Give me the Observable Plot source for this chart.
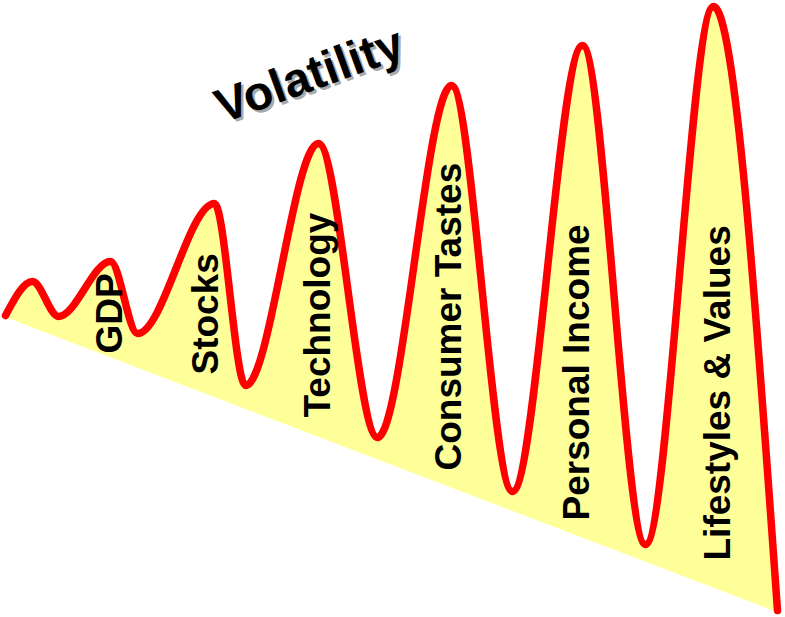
<!DOCTYPE html>
<html>
<head>
<meta charset="utf-8">
<script src="https://cdn.jsdelivr.net/npm/d3@7"></script>
<script src="https://cdn.jsdelivr.net/npm/@observablehq/plot@0.6"></script>
<style>
  html, body { margin: 0; padding: 0; background: #fff; }
  #chart svg { display: block; }
</style>
</head>
<body>
<div id="chart"></div>
<script>
// Volatility wave: turning points (x position along the horizon, level above floor)
const waveX = [5, 32, 58, 110, 137, 214, 245, 318, 377, 451, 512, 582, 645, 713, 777];
const waveLevel = [302, 336, 301, 356, 284, 414, 232, 474, 180, 532, 126, 572, 73, 611, 7];

// Sloping baseline (start and end)
const baseX = [5, 777];
const baseLevel = [300, 5];

// Category labels and where they sit
const labels = ["GDP", "Stocks", "Technology", "Consumer Tastes", "Personal Income", "Lifestyles & Values"];
const labelX = [110, 206, 318, 449, 577, 718];
const labelLevel = [264, 243, 200, 147, 97, 57];

const title = "Volatility";

const wave = waveX.map((x, i) => ({x, v: waveLevel[i]}));
const base = baseX.map((x, i) => ({x, v: baseLevel[i]}));
const lab = labels.map((t, i) => ({t, x: labelX[i], v: labelLevel[i]}));

const font = "'Liberation Sans', Arial, Helvetica, sans-serif";

const chart = Plot.plot({
  width: 785,
  height: 617,
  margin: 0,
  x: {domain: [0, 785], axis: null},
  y: {domain: [0, 617], axis: null},
  style: {background: "#fff"},
  marks: [
    Plot.areaY(wave, {x: "x", y1: 0, y2: "v", curve: "monotone-x", fill: "#ffff99"}),
    Plot.areaY(base, {x: "x", y1: 0, y2: "v", fill: "#fff"}),
    Plot.line(wave, {x: "x", y: "v", curve: "monotone-x", stroke: "#ff0000", strokeWidth: 7.5, strokeLinejoin: "round"}),
    Plot.text(lab, {x: "x", y: "v", text: "t", rotate: -90, textAnchor: "start", lineAnchor: "middle",
      fontSize: 37, fontWeight: "bold", fontFamily: font, fill: "#000"}),
    Plot.text([title], {x: [309], y: [617 - 75], text: (d) => d, rotate: -20, textAnchor: "middle", lineAnchor: "middle",
      fontSize: 48, fontWeight: "bold", fontFamily: font, fill: "#aaa", dx: 2.5, dy: 2.5}),
    Plot.text([title], {x: [309], y: [617 - 75], text: (d) => d, rotate: -20, textAnchor: "middle", lineAnchor: "middle",
      fontSize: 48, fontWeight: "bold", fontFamily: font, fill: "#000"})
  ]
});
document.getElementById("chart").appendChild(chart);
</script>
</body>
</html>
